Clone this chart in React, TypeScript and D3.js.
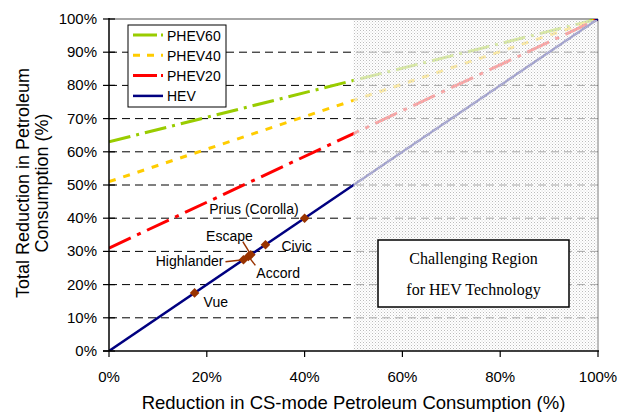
import React from "react";
import * as d3 from "d3";

const xTicks = [0, 0.2, 0.4, 0.6, 0.8, 1.0];
const yTicks = [0, 0.1, 0.2, 0.3, 0.4, 0.5, 0.6, 0.7, 0.8, 0.9, 1.0];

const seriesNames = ["PHEV60", "PHEV40", "PHEV20", "HEV"];
const seriesX = [0, 0.5, 1.0];
const phev60 = [0.63, 0.815, 1.0];
const phev40 = [0.51, 0.755, 1.0];
const phev20 = [0.31, 0.655, 1.0];
const hev = [0, 0.5, 1.0];

const vehicleNames = ["Vue", "Highlander", "Accord", "Escape", "Civic", "Prius (Corolla)"];
const vehicleValues = [0.175, 0.275, 0.285, 0.29, 0.32, 0.4];

const regionStart = 0.5;

const W = 619;
const H = 412;
const M = { left: 109, right: 21, top: 19, bottom: 61 };

const FONT = "'Liberation Sans', Arial, sans-serif";

const styles: Record<string, { color: string; dash: string; width: number }> = {
  PHEV60: { color: "#99CC00", dash: "22,6,3,6", width: 3 },
  PHEV40: { color: "#FFCC00", dash: "7,8", width: 3 },
  PHEV20: { color: "#FF0000", dash: "24,7,4,7", width: 3 },
  HEV: { color: "#000080", dash: "", width: 2.5 },
};

// label layout: offsets from the point
const labelLayout: Record<string, { x: number; y: number; anchor: string; leader?: [number, number] }> = {
  "Vue": { x: 9, y: 14, anchor: "start" },
  "Highlander": { x: -20, y: 6, anchor: "end", leader: [-18, 2] },
  "Accord": { x: 8, y: 22, anchor: "start", leader: [7, 9] },
  "Escape": { x: 2, y: -14, anchor: "end", leader: [-8, -13] },
  "Civic": { x: 16, y: 6, anchor: "start" },
  "Prius (Corolla)": { x: -6, y: -4, anchor: "end" },
};

export default function App() {
  const x = d3.scaleLinear().domain([0, 1]).range([M.left, W - M.right]);
  const y = d3.scaleLinear().domain([0, 1]).range([H - M.bottom, M.top]);
  const seriesVals = [phev60, phev40, phev20, hev];
  const line = d3
    .line<[number, number]>()
    .x((d) => x(d[0]))
    .y((d) => y(d[1]));
  const pct = d3.format(".0%");

  const x0 = x(0), x1 = x(1), y0 = y(0), y1 = y(1);
  const rx = x(regionStart);

  const diamond = (cx: number, cy: number, r: number) =>
    `M${cx},${cy - r}L${cx + r},${cy}L${cx},${cy + r}L${cx - r},${cy}Z`;

  const legendX = 128, legendY = 25;

  return (
    <svg width={W} height={H} style={{ position: "absolute", left: 0, top: 0, background: "#fff" }} fontFamily={FONT}>
      <defs>
        <pattern id="dots" width="3" height="3" patternUnits="userSpaceOnUse">
          <rect width="3" height="3" fill="#ffffff" fillOpacity="0.62" />
          <rect x="0" y="0" width="1" height="1" fill="#bcbcbc" />
          <rect x="1.5" y="1.5" width="1" height="1" fill="#d4d4d4" />
        </pattern>
        <clipPath id="plot">
          <rect x={x0} y={y1} width={x1 - x0} height={y0 - y1} />
        </clipPath>
      </defs>

      {/* gridlines */}
      {yTicks.filter((t) => t > 0 && t < 1).map((t) => (
        <line key={"g" + t} x1={x0} x2={x1} y1={y(t)} y2={y(t)} stroke="#000" strokeWidth={1} strokeDasharray="8,5" />
      ))}
      {/* top and right border */}
      <line x1={x0} x2={x1} y1={y1} y2={y1} stroke="#a6a6a6" strokeWidth={2} />
      <line x1={x1} x2={x1} y1={y1} y2={y0} stroke="#a6a6a6" strokeWidth={1.5} />

      {/* series lines */}
      <g clipPath="url(#plot)">
        {seriesNames.map((name, i) => {
          const pts = seriesX.map((v, j) => [v, seriesVals[i][j]] as [number, number]);
          const s = styles[name];
          return (
            <path key={name} d={line(pts) || ""} fill="none" stroke={s.color} strokeWidth={s.width} strokeDasharray={s.dash} />
          );
        })}
      </g>

      {/* challenging region shading */}
      <rect x={rx} y={y1 + 1} width={x1 - rx - 1} height={y0 - y1 - 1} fill="url(#dots)" />

      {/* axes */}
      <line x1={x0} x2={x0} y1={y1 - 1} y2={y0} stroke="#000" strokeWidth={1.5} />
      <line x1={x0 - 6} x2={x1 + 1} y1={y0} y2={y0} stroke="#000" strokeWidth={1.5} />
      {yTicks.map((t) => (
        <g key={"yt" + t}>
          <line x1={x0 - 6} x2={x0 + 6} y1={y(t)} y2={y(t)} stroke="#000" strokeWidth={1.2} />
          <text x={x0 - 12} y={y(t) + 5} textAnchor="end" fontSize={15} fill="#000">
            {pct(t)}
          </text>
        </g>
      ))}
      {xTicks.map((t) => (
        <g key={"xt" + t}>
          <line x1={x(t)} x2={x(t)} y1={y0} y2={y0 + 6} stroke="#000" strokeWidth={1.2} />
          <text x={x(t)} y={y0 + 31} textAnchor="middle" fontSize={15} fill="#000">
            {pct(t)}
          </text>
        </g>
      ))}

      {/* axis titles */}
      <text x={(x0 + x1) / 2} y={409} textAnchor="middle" fontSize={18.5} fill="#000">
        Reduction in CS-mode Petroleum Consumption (%)
      </text>
      <g transform={`translate(0, ${(y0 + y1) / 2 - 2}) rotate(-90)`}>
        <text x={0} y={29} textAnchor="middle" fontSize={18} fill="#000">
          Total Reduction in Petroleum
        </text>
        <text x={0} y={48} textAnchor="middle" fontSize={18} fill="#000">
          Consumption (%)
        </text>
      </g>

      {/* vehicles */}
      {vehicleNames.map((name, i) => {
        const cx = x(vehicleValues[i]);
        const cy = y(vehicleValues[i]);
        const L = labelLayout[name];
        return (
          <g key={name}>
            {L.leader && (
              <line x1={cx} y1={cy} x2={cx + L.leader[0]} y2={cy + L.leader[1]} stroke="#993300" strokeWidth={1.5} />
            )}
          </g>
        );
      })}
      {vehicleNames.map((name, i) => {
        const cx = x(vehicleValues[i]);
        const cy = y(vehicleValues[i]);
        const L = labelLayout[name];
        return (
          <g key={"p" + name}>
            <path d={diamond(cx, cy, 4.8)} fill="#993300" />
            <text x={cx + L.x} y={cy + L.y} textAnchor={L.anchor as any} fontSize={14} fill="#000">
              {name}
            </text>
          </g>
        );
      })}

      {/* challenging region label box */}
      <rect x={378} y={240} width={191} height={67} fill="#fff" stroke="#000" strokeWidth={1.5} />
      <text x={473.5} y={264} textAnchor="middle" fontSize={16} fontFamily="'Liberation Serif', 'Times New Roman', serif" fill="#000">
        Challenging Region
      </text>
      <text x={473.5} y={295} textAnchor="middle" fontSize={16} fontFamily="'Liberation Serif', 'Times New Roman', serif" fill="#000">
        for HEV Technology
      </text>

      {/* legend */}
      <rect x={legendX} y={legendY} width={98} height={82} fill="#fff" stroke="#000" strokeWidth={1} />
      {seriesNames.map((name, i) => {
        const s = styles[name];
        const ly = legendY + 10 + i * 20.3;
        return (
          <g key={"lg" + name}>
            <line x1={legendX + 5} x2={legendX + 35} y1={ly} y2={ly} stroke={s.color} strokeWidth={s.width} strokeDasharray={name === "PHEV40" ? "7,7" : name === "HEV" ? "" : "24,4,2,4"} />
            <text x={legendX + 39} y={ly + 5.5} fontSize={14} fill="#000">
              {name}
            </text>
          </g>
        );
      })}
    </svg>
  );
}
